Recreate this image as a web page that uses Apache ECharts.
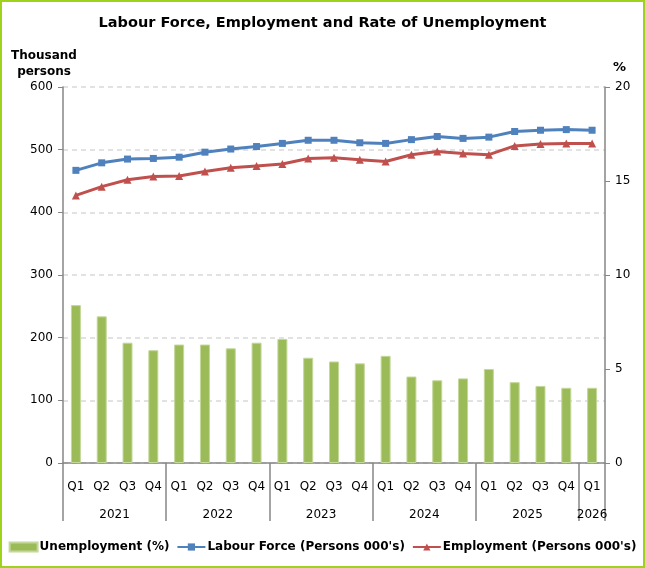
<!DOCTYPE html>
<html>
<head>
<meta charset="utf-8">
<script src="https://cdn.jsdelivr.net/npm/echarts@6/dist/echarts.min.js"></script>
<style>
	html, body { margin: 0; padding: 0; background: #fff; }
	#main { position: absolute; left: 0; top: 0; width: 645px; height: 568px; }
	#frame { position: absolute; left: 0; top: 0; width: 645px; height: 568px; box-sizing: border-box; border: 2px solid #9fd21a; pointer-events: none; }
</style>
</head>
<body>
<div id="main"></div>
<div id="frame"></div>
<script>
// quarters Q1 2021 .. Q1 2026
var quarters = ['Q1', 'Q2', 'Q3', 'Q4', 'Q1', 'Q2', 'Q3', 'Q4', 'Q1', 'Q2', 'Q3', 'Q4',
	'Q1', 'Q2', 'Q3', 'Q4', 'Q1', 'Q2', 'Q3', 'Q4', 'Q1'];
var years = ['2021', '2022', '2023', '2024', '2025', '2026'];
var quartersPerYear = [4, 4, 4, 4, 4, 1];

var unemployment = [8.4, 7.8, 6.4, 6.0, 6.3, 6.3, 6.1, 6.4, 6.6, 5.6, 5.4, 5.3,
	5.7, 4.6, 4.4, 4.5, 5.0, 4.3, 4.1, 4.0, 4.0];
var labourForce = [467, 479, 485, 486, 488, 496, 501, 505, 510, 515, 515, 511,
	510, 516, 521, 518, 520, 529, 531, 532, 531];
var employment = [427, 441, 452, 457, 458, 465, 471, 474, 477, 486, 487, 484,
	481, 492, 497, 494, 492, 506, 509, 510, 510];

var FONT = 'DejaVu Sans';

// year row: a second category axis in half-quarter steps
var yearSlots = [];
var yearTicks = {};
var yearLabelIdx = {};
var pos = 0;
for (var k = 0; k <= quarters.length * 2; k++) yearSlots.push('');
yearTicks[0] = true;
for (var i = 0; i < years.length; i++) {
	var mid = pos + quartersPerYear[i];
	yearSlots[mid] = years[i];
	yearLabelIdx[mid] = true;
	pos += quartersPerYear[i] * 2;
	yearTicks[pos] = true;
}

var myChart = echarts.init(document.getElementById('main'));

var option = {
	animation: false,
	textStyle: { fontFamily: FONT },
	title: {
		text: 'Labour Force, Employment and Rate of Unemployment',
		left: 'center',
		top: 11,
		textStyle: { fontFamily: FONT, fontSize: 14.5, fontWeight: 'bold', color: '#000' }
	},
	legend: {
		bottom: 10,
		left: 'center',
		itemGap: 7,
		itemWidth: 28,
		itemHeight: 9,
		textStyle: { fontFamily: FONT, fontSize: 12, fontWeight: 'bold', color: '#000', padding: [0, 0, 0, -3] },
		data: [
			{ name: 'Unemployment (%)', icon: 'rect' },
			{ name: "Labour Force (Persons 000's)" },
			{ name: "Employment (Persons 000's)" }
		]
	},
	grid: {
		left: 63,
		right: 40,
		top: 87,
		bottom: 105
	},
	xAxis: [{
		type: 'category',
		data: quarters,
		axisLine: { lineStyle: { color: '#868686', width: 1.5 } },
		axisTick: { show: false },
		axisLabel: { color: '#000', fontSize: 12, margin: 18, interval: 0 },
		splitLine: { show: false }
	}, {
		type: 'category',
		data: yearSlots,
		position: 'bottom',
		boundaryGap: false,
		axisLine: { show: false },
		axisTick: {
			show: true,
			length: 58,
			interval: function(index) { return !!yearTicks[index]; },
			lineStyle: { color: '#868686', width: 1.5 }
		},
		axisLabel: {
			color: '#000',
			fontSize: 12,
			margin: 46,
			interval: function(index) { return !!yearLabelIdx[index]; }
		},
		splitLine: { show: false }
	}],
	yAxis: [{
		type: 'value',
		min: 0,
		max: 600,
		interval: 100,
		name: 'Thousand\npersons',
		nameLocation: 'end',
		nameGap: 7,
		nameTextStyle: {
			fontFamily: FONT, fontSize: 12, fontWeight: 'bold', color: '#000',
			align: 'center', lineHeight: 16, padding: [0, 38, 0, 0]
		},
		axisLine: { show: true, lineStyle: { color: '#868686', width: 1.5 } },
		axisTick: { show: true, length: 5, lineStyle: { color: '#868686' } },
		axisLabel: { color: '#000', fontSize: 12, margin: 10 },
		splitLine: { show: true, lineStyle: { color: '#d9d9d9', type: [5, 4], width: 1.5 } }
	}, {
		type: 'value',
		min: 0,
		max: 20,
		interval: 5,
		name: '%',
		nameLocation: 'end',
		nameGap: 13,
		nameTextStyle: {
			fontFamily: FONT, fontSize: 13, fontWeight: 'bold', color: '#000',
			align: 'left', padding: [0, 0, 0, 8]
		},
		axisLine: { show: true, lineStyle: { color: '#868686', width: 1.5 } },
		axisTick: { show: true, length: 5, lineStyle: { color: '#868686' } },
		axisLabel: { color: '#000', fontSize: 12, margin: 10 },
		splitLine: { show: false }
	}],
	series: [{
		name: 'Unemployment (%)',
		type: 'bar',
		xAxisIndex: 0,
		yAxisIndex: 1,
		barWidth: 10,
		itemStyle: { color: '#9bbb59', borderColor: '#c3d89a', borderWidth: 1 },
		data: unemployment
	}, {
		name: "Labour Force (Persons 000's)",
		type: 'line',
		xAxisIndex: 0,
		yAxisIndex: 0,
		symbol: 'rect',
		symbolSize: 7,
		lineStyle: { color: '#4f81bd', width: 3 },
		itemStyle: { color: '#4f81bd' },
		data: labourForce
	}, {
		name: "Employment (Persons 000's)",
		type: 'line',
		xAxisIndex: 0,
		yAxisIndex: 0,
		symbol: 'triangle',
		symbolSize: 8,
		lineStyle: { color: '#c0504d', width: 3 },
		itemStyle: { color: '#c0504d' },
		data: employment
	}]
};

myChart.setOption(option);
</script>
</body>
</html>
